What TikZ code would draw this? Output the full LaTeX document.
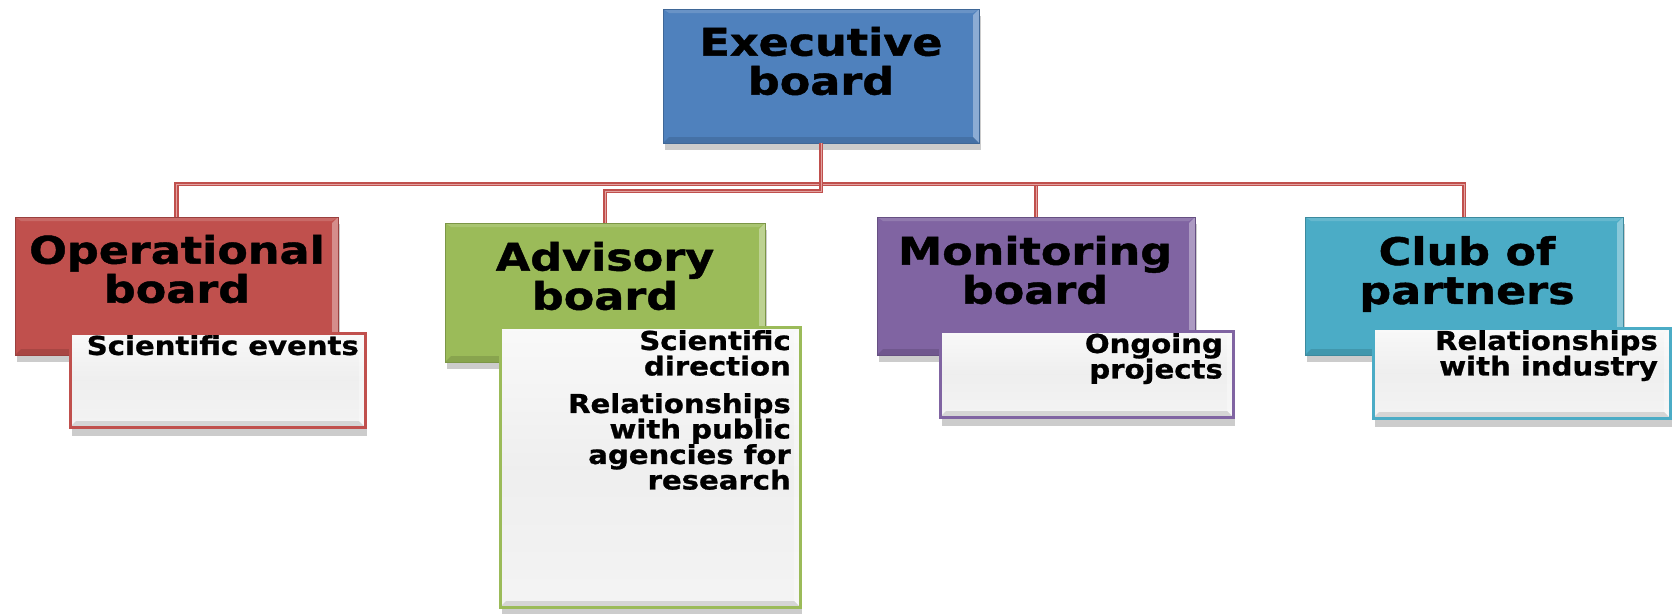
\documentclass[tikz,border=0pt]{standalone}
\usepackage{fontspec}
\newfontfamily\vfont{DejaVu Sans}[BoldFont={DejaVu Sans Bold},BoldFeatures={FakeBold=1.2},FakeStretch=1.17]
\newfontfamily\vsfont{DejaVu Sans}[BoldFont={DejaVu Sans Bold},BoldFeatures={FakeBold=1},FakeStretch=1.12]
\usetikzlibrary{shadows}
\definecolor{cBlue}{HTML}{4F81BD}
\definecolor{cRed}{HTML}{C0504D}
\definecolor{cGreen}{HTML}{9BBB59}
\definecolor{cPurple}{HTML}{8064A2}
\definecolor{cTeal}{HTML}{4BACC6}
\definecolor{cLine}{HTML}{C0504D}
\definecolor{cLineIn}{HTML}{E2A3A1}
\begin{document}
\begin{tikzpicture}[x=1pt,y=-1pt,
  bevel/.style={path picture={
    \fill[white,opacity=.35] (path picture bounding box.north east) -- (path picture bounding box.south east)
      -- ([shift={(-6pt,6pt)}]path picture bounding box.south east) -- ([shift={(-6pt,-6pt)}]path picture bounding box.north east) -- cycle;
    \fill[black,opacity=.12] (path picture bounding box.south west) -- (path picture bounding box.south east)
      -- ([shift={(-6pt,6pt)}]path picture bounding box.south east) -- ([shift={(6pt,6pt)}]path picture bounding box.south west) -- cycle;
    \fill[white,opacity=.15] (path picture bounding box.north west) -- (path picture bounding box.north east)
      -- ([shift={(-6pt,-4pt)}]path picture bounding box.north east) -- ([shift={(6pt,-4pt)}]path picture bounding box.north west) -- cycle;
  }},
  mainbox/.style={rectangle, inner sep=0pt, draw=#1!80!black, line width=0.8pt, fill=#1, bevel,
    drop shadow={shadow xshift=2pt, shadow yshift=-7pt, opacity=.2, fill=black}},
  subbox/.style={rectangle, inner sep=0pt, draw=#1, line width=3pt, top color=gray!5, bottom color=gray!9,
    middle color=gray!13, bevel,
    drop shadow={shadow xshift=2pt, shadow yshift=-9pt, opacity=.2, fill=black}},
  maintext/.style={font=\vfont\bfseries\fontsize{38}{39}\selectfont, align=center, inner sep=0pt},
  subtext/.style={font=\vsfont\bfseries\fontsize{26}{25.5}\selectfont, align=right, inner sep=0pt, anchor=north east},
  conn/.style={draw=cLine, line width=1.8pt, double=cLineIn, double distance=1pt}
]
\useasboundingbox (0,0) rectangle (1675,613);

% junctions
\coordinate (jA) at (821,184);
\coordinate (jB) at (821,191);

% main boxes
\node[mainbox=cBlue, minimum width=316pt, minimum height=134pt] (exec) at (821,76) {};
\node[mainbox=cRed, minimum width=323pt, minimum height=138pt] (op) at (176.5,286) {};
\node[mainbox=cGreen, minimum width=320pt, minimum height=139pt] (adv) at (605,292.5) {};
\node[mainbox=cPurple, minimum width=318pt, minimum height=138pt] (mon) at (1036,286) {};
\node[mainbox=cTeal, minimum width=318pt, minimum height=138pt] (club) at (1464,286) {};

% connectors
\draw[conn] (exec.south) -- (jA) -| (op.north);
\draw[conn] (exec.south) -- (jA) -| (mon.north);
\draw[conn] (exec.south) -- (jA) -| (club.north);
\draw[conn] (exec.south) -- (jB) -| (adv.north);

% main texts
\node[maintext] (execT) at (821,61) {Executive\\board};
\node[maintext] (opT) at (177,269) {Operational\\board};
\node[maintext] (advT) at (605,276) {Advisory\\board};
\node[maintext] (monT) at (1035,270) {Monitoring\\board};
\node[maintext] (clubT) at (1467,274) {Club of\\partners};

% sub boxes
\node[subbox=cRed, minimum width=295pt, minimum height=94pt] (opS) at (217.5,380) {};
\node[subbox=cGreen, minimum width=300pt, minimum height=280pt] (advS) at (650,467) {};
\node[subbox=cPurple, minimum width=293pt, minimum height=86pt] (monS) at (1086.5,374) {};
\node[subbox=cTeal, minimum width=297pt, minimum height=90pt] (clubS) at (1521.5,373) {};

% sub texts
\node[subtext] (opST) at (359,335) {Scientific events};
\node[subtext] (advST) at (791,330) {Scientific\\direction\\[12pt]Relationships\\with public\\agencies for\\research};
\node[subtext] (monST) at (1223,333) {Ongoing\\projects};
\node[subtext] (clubST) at (1658,330) {Relationships\\with industry};
\end{tikzpicture}
\end{document}
